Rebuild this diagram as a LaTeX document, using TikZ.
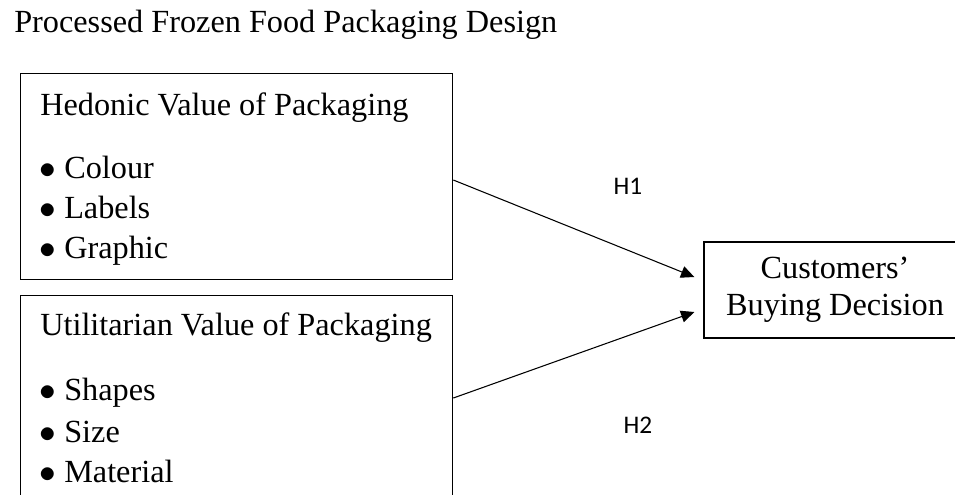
\documentclass[tikz,border=0pt]{standalone}
\usepackage{fontspec}
\setmainfont{Liberation Serif}
\newfontfamily\hypfont{Carlito}
\usetikzlibrary{arrows.meta,positioning,calc}
\newcommand{\blt}{\makebox[18.75pt][l]{$\bullet$}}

\begin{document}
\begin{tikzpicture}[x=0.75pt,y=-0.75pt,
  box/.style={draw,line width=1pt,inner sep=0pt,anchor=north west},
  txt/.style={anchor=base west,inner sep=0pt,font=\fontsize{24.2}{28}\selectfont},
  hyp/.style={anchor=base,inner sep=0pt,font=\hypfont\fontsize{19}{22}\selectfont},
  arr/.style={-{Triangle[length=10pt,width=9pt]},line width=0.8pt}
]
  \useasboundingbox (0,0) rectangle (955,494);
  \clip (0,0) rectangle (955,494);
  % Title
  \node[txt] (title) at (14,32) {Processed Frozen Food Packaging Design};
  % Hedonic box
  \node[box,minimum width=324pt,minimum height=154.5pt] (hed) at (20,73) {};
  \node[txt] (hedT) at (40,115) {Hedonic Value of Packaging};
  \node[txt] (colour) at (39,178) {\blt Colour};
  \node[txt] (labels) at (39,218) {\blt Labels};
  \node[txt] (graphic) at (39,258) {\blt Graphic};
  % Utilitarian box (runs off the bottom)
  \node[box,minimum width=324pt,minimum height=180pt] (util) at (20,295) {};
  \node[txt] (utilT) at (40,335) {Utilitarian Value of Packaging};
  \node[txt] (shapes) at (39,400) {\blt Shapes};
  \node[txt] (size) at (39,442) {\blt Size};
  \node[txt] (material) at (39,482) {\blt Material};
  % Outcome
  \node[draw,line width=1pt,minimum width=196.5pt,minimum height=72pt,align=center,
    font=\fontsize{24.2}{28}\selectfont] (cbd) at (835,290) {Customers’\\Buying Decision};
  % Hypotheses
  \coordinate (h1s) at ($(hed.north east)+(0,107)$);
  \coordinate (h2s) at ($(util.north east)+(0,103)$);
  \coordinate (h1e) at ($(cbd.west)+(-9,-13)$);
  \coordinate (h2e) at ($(cbd.west)+(-9,22)$);
  \draw[arr] (h1s) -- (h1e);
  \draw[arr] (h2s) -- (h2e);
  \node[hyp] (h1) at (628,194) {H1};
  \node[hyp] (h2) at (638,433) {H2};
\end{tikzpicture}
\end{document}
